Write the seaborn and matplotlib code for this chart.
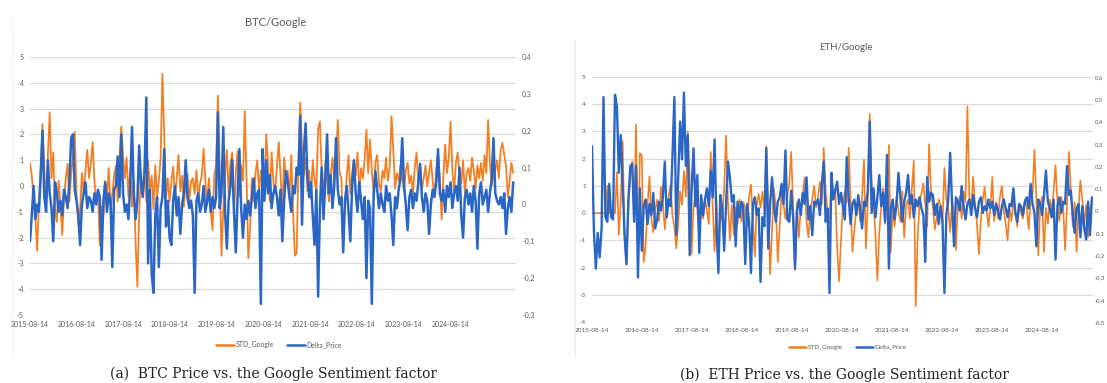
import matplotlib
matplotlib.use("Agg")
import matplotlib.pyplot as plt
from matplotlib.lines import Line2D
import seaborn as sns
import pandas as pd

# biweekly samples, starting 2015-08-14
start_date = "2015-08-14"
tick_labels = ["2015-08-14", "2016-08-14", "2017-08-14", "2018-08-14", "2019-08-14",
               "2020-08-14", "2021-08-14", "2022-08-14", "2023-08-14", "2024-08-14"]

btc_google = [
    0.9, 0.4, -0.4, -1.2, -2.5, -0.6, 0.8, 2.4, 0.6, -0.8, 1.2, 2.85, 0.3, 1.3, -0.9, -1.4, 0.2, -0.7, -1.9, -0.5, 0.3, 0.85, -0.6, 0.5, 1.1, 2.1,
    -0.4, -1.5, -0.9, 0.5, -0.3, 0.6, 1.4, 0.3, 0.9, 1.7, 0.2, -0.6, -0.2, -2.3, -0.8, -1.2, 0.2, -0.4, 0.7, -0.9, -0.3, 0.4, 0.8, -0.6, 1.1, 2.3,
    1.2, 0.3, 1.1, -0.4, 0.6, -0.8, 0.2, -2.2, -3.9, -1.0, 0.5, -0.3, 0.7, -0.6, 1.0, -0.2, 0.4, -0.9, 0.8, -0.4, 0.2, 1.1, 4.35, 2.0, -0.5, 0.3,
    -0.6, 0.2, 0.75, -0.4, 0.3, 1.2, -0.2, 0.4, -0.8, 0.1, 0.5, -0.6, 0.2, 0.3, -0.3, 0.6, -0.5, 0.1, 0.4, 1.45, 0.2, -0.7, 0.3, -1.0, -1.7, 0.4,
    0.8, 3.5, 0.6, -2.7, -0.9, 0.4, 1.4, -0.3, 0.9, 1.3, -1.1, 0.5, 1.35, -0.4, 0.8, 0.2, 2.9, 0.3, -2.8, -1.6, 0.3, -0.6, 0.5, 1.0, -0.2, 0.6,
    0.5, -0.4, 2.0, 0.9, -0.6, 1.3, 0.2, -0.3, 0.8, 1.7, 0.4, -0.9, 1.1, 0.3, 0.6, -0.5, 1.2, -1.0, -2.7, -2.6, 0.8, 3.24, 1.5, 0.4, 1.1, -0.2,
    0.6, -0.5, 1.0, 0.2, -0.2, 2.2, 2.5, 0.6, -0.4, 0.9, 0.3, -0.6, 0.4, 1.1, 0.2, 0.8, 2.56, 0.5, 0.3, -2.4, -0.8, 0.4, 1.2, -0.3, 0.5, 1.0,
    0.4, 1.3, -0.2, 0.7, 0.3, 1.0, 2.18, 0.5, 1.8, 0.6, -0.3, 0.9, 1.2, 0.1, -0.2, 0.6, 0.3, 1.1, 0.2, 0.7, 2.7, 1.4, -0.1, 0.5, 0.2, 0.8,
    0.3, -0.2, 0.6, 0.9, 0.1, 0.4, -0.3, 0.7, 1.3, 0.2, 0.5, -0.1, 0.3, 0.8, 0.0, 0.5, 1.0, 0.2, -0.4, 0.6, 1.2, 0.3, -1.3, 0.4, 1.6, 0.5,
    1.1, 2.5, 0.6, -0.2, 0.9, 1.3, 0.4, 0.1, 1.0, -0.3, 0.5, 0.7, 0.2, 1.1, 0.6, -0.1, 0.8, 0.3, 0.9, 0.2, 1.2, 0.5, 2.56, 0.9, 0.0, 0.4,
    0.6, 1.0, 0.3, 1.4, 1.67, 1.2, 0.8, -0.45, 0.2, 0.9, 0.5,
]

btc_delta = [
    -0.10, -0.03, 0.05, -0.04, 0.00, -0.02, 0.08, 0.20, 0.02, -0.02, 0.12, 0.03, -0.01, -0.10, 0.06, 0.03, -0.02, 0.01, -0.03, 0.04, 0.02, -0.01, 0.06, 0.18, 0.19, 0.04,
    0.01, -0.03, -0.11, 0.00, 0.03, 0.06, -0.01, 0.02, 0.01, -0.02, 0.03, 0.00, 0.04, 0.02, -0.15, 0.01, 0.06, -0.02, 0.03, 0.01, -0.17, 0.04, 0.05, 0.13, 0.02, 0.19,
    0.03, -0.02, 0.00, -0.04, 0.05, 0.21, 0.03, -0.04, 0.01, 0.16, 0.06, 0.02, 0.09, 0.29, -0.16, 0.04, -0.19, -0.24, -0.03, 0.02, -0.17, -0.01, 0.02, 0.15, -0.06, 0.01,
    -0.09, -0.11, 0.01, 0.05, -0.03, 0.02, -0.08, 0.00, 0.03, 0.12, 0.02, -0.01, 0.01, -0.03, -0.24, 0.01, 0.03, -0.02, 0.00, 0.05, -0.02, 0.01, 0.04, -0.02, 0.02, -0.01,
    0.02, 0.25, -0.01, 0.03, 0.21, -0.02, -0.12, 0.01, 0.05, 0.12, -0.02, -0.13, 0.02, 0.15, -0.01, -0.09, 0.00, -0.04, 0.01, -0.03, 0.02, 0.07, -0.01, 0.03, 0.04, -0.27,
    0.15, 0.01, 0.12, 0.03, 0.08, -0.01, 0.03, 0.05, 0.02, -0.03, 0.04, -0.10, 0.01, 0.09, 0.06, 0.02, -0.02, 0.05, 0.03, 0.10, 0.08, 0.24, -0.055, 0.14, 0.22, 0.08,
    0.02, 0.06, -0.03, -0.11, 0.04, -0.25, -0.01, 0.10, -0.04, 0.06, 0.19, 0.03, 0.08, -0.01, 0.05, 0.18, 0.04, 0.00, 0.02, -0.13, 0.01, 0.05, -0.02, -0.10, 0.05, 0.12,
    0.03, -0.02, 0.06, 0.01, -0.04, 0.02, -0.20, 0.01, -0.01, -0.27, 0.02, 0.09, 0.04, -0.01, 0.03, 0.00, -0.02, 0.05, 0.01, 0.03, -0.03, -0.11, 0.02, -0.01, 0.04, 0.07,
    0.18, 0.05, 0.00, -0.07, 0.02, 0.04, -0.01, 0.03, 0.01, 0.06, 0.11, 0.02, -0.02, 0.03, 0.01, -0.08, 0.00, 0.04, 0.02, 0.06, 0.15, 0.03, 0.01, 0.04, -0.02, 0.05,
    0.02, 0.06, -0.01, 0.03, 0.05, 0.01, 0.10, -0.03, -0.09, 0.02, 0.04, 0.00, 0.03, -0.02, 0.05, 0.01, -0.12, 0.03, 0.06, 0.00, 0.02, 0.04, -0.02, 0.03, 0.07, 0.18,
    0.03, 0.01, 0.00, 0.02, -0.01, 0.03, -0.08, -0.01, 0.02, -0.02, 0.06,
]

eth_google = [
    0, 0, 0, 0, 0, 0, 0, 0, 1.0, 0, 0, 0, 0, 1.5, -0.8, 0.4, 2.65, -0.9, -1.9, 0.2, 1.3, 1.9, -0.3, 3.25, -1.7, 2.2,
    2.1, -1.8, -1.2, 0.3, 1.35, -0.2, -0.7, 0.1, 0.5, -0.3, 0.95, 0.4, -0.6, 0.2, 0.6, 1.05, -0.1, -0.5, -1.3, -0.4, 0.8, 0.3, 1.55, 0.6, 3.0, 1.4,
    -1.5, 0.2, 0.7, 0.1, -0.9, 0.4, -0.2, 0.5, 0.1, -0.4, 2.25, 0.3, -1.4, 0.5, -1.5, 0.2, -0.3, 0.9, 2.85, 0.4, -1.0, 0.3, -0.8, 0.2, -0.4, 0.5,
    -0.3, 0.4, 0.2, -0.5, 0.6, 1.05, -0.2, -1.6, 0.3, 0.7, 0.2, 0.8, 0.1, 2.45, 0.5, -2.25, -0.6, 0.9, 0.2, -1.8, -0.5, 0.8, 0.3, -0.2, 0.6, 1.1,
    2.25, 0.3, -2.1, 0.4, -0.9, 0.2, 0.6, 1.3, -0.3, -0.9, 0.1, 0.5, 1.0, 0.2, 0.6, 1.15, 0.3, 2.4, 0.8, 0.0, -0.4, 1.2, 0.5, 0.9, -1.3, -2.5,
    -1.0, 0.3, 0.8, 0.4, 2.4, 0.5, -1.43, -0.6, 0.2, 0.5, -0.3, 0.6, 1.96, -1.3, 0.4, 3.65, 1.2, 0.3, -0.8, -2.47, -0.7, 0.2, 0.9, -0.4, 0.6, 2.5,
    -1.43, 0.2, -0.5, 0.6, 0.1, -0.3, 0.8, -0.9, 0.3, 0.5, -0.2, 0.9, 1.92, -3.42, -1.0, 0.4, 0.7, 1.1, 0.3, -0.5, 2.53, 0.8, 0.2, -0.6, -0.14, 0.5,
    0.3, -0.4, 1.67, 0.5, 0.2, -0.7, 0.4, 0.1, -1.36, 0.3, 0.6, -0.2, 0.8, 0.4, 3.92, 0.6, 0.2, 1.33, 0.3, -0.4, -1.5, -0.3, 0.5, 0.96, 0.1, -0.5,
    0.2, 1.33, -0.3, 0.4, -0.2, 0.6, 1.0, 0.1, -0.4, -1.0, 0.2, -0.3, 0.4, 0.1, -0.5, 0.3, 0.0, -0.2, 0.5, 0.2, -0.6, 0.4, 0.7, 2.33, 0.5, -1.55,
    0.3, 0.6, -1.43, 0.2, -0.4, 0.5, 0.1, 0.8, 1.76, 0.4, -0.3, 0.6, 0.2, -1.36, 0.3, 2.25, 0.9, -0.5, 0.4, -1.43, 0.2, 1.2, 0.5, -0.4, 0.3, -0.88,
    0.2, 0.4,
]

eth_delta = [
    0.29, -0.09, -0.26, -0.10, -0.21, -0.08, 0.51, -0.03, -0.05, 0.12, -0.03, -0.04, 0.52, 0.47, 0.17, 0.34, 0.12, -0.11, -0.24, 0.05, 0.20, 0.21, -0.05, 0.20, -0.30, 0.10,
    -0.18, 0.02, 0.05, -0.06, 0.03, -0.02, 0.08, -0.08, -0.04, 0.04, 0.00, 0.06, 0.22, -0.03, 0.05, 0.02, 0.24, 0.51, -0.11, 0.15, 0.40, 0.23, 0.53, 0.20, 0.34, -0.20,
    0.09, 0.28, 0.02, 0.16, -0.19, 0.07, -0.02, 0.05, 0.10, 0.02, 0.18, 0.06, 0.32, -0.08, -0.28, 0.07, 0.01, -0.18, 0.03, 0.22, 0.15, 0.04, 0.07, -0.16, 0.04, -0.03,
    0.04, 0.01, -0.24, 0.03, -0.05, -0.28, 0.03, 0.06, -0.02, 0.01, -0.32, -0.03, -0.07, 0.28, -0.17, 0.03, 0.15, 0.02, -0.05, 0.04, 0.06, 0.12, 0.03, 0.27, -0.04, -0.05,
    0.09, -0.03, -0.26, 0.00, 0.05, -0.02, 0.08, 0.03, 0.15, -0.04, 0.02, -0.11, 0.04, 0.03, 0.05, -0.02, 0.12, 0.22, -0.05, 0.01, -0.37, 0.17, 0.05, 0.09, 0.13, 0.03,
    0.08, 0.02, -0.04, 0.24, 0.06, -0.06, 0.03, 0.05, -0.02, 0.07, 0.01, -0.08, 0.04, 0.02, 0.09, 0.40, -0.01, 0.10, -0.03, 0.06, 0.16, 0.02, 0.08, -0.05, 0.25, -0.26,
    0.01, 0.05, -0.04, 0.03, 0.17, 0.06, -0.05, 0.04, 0.08, 0.16, 0.03, 0.07, -0.03, 0.05, 0.02, 0.06, 0.01, -0.02, -0.23, 0.15, 0.04, 0.08, 0.07, -0.02, 0.03, -0.06,
    0.02, -0.05, -0.37, -0.02, 0.05, 0.26, 0.03, -0.16, 0.06, 0.04, 0.00, 0.11, 0.02, -0.04, 0.03, 0.05, -0.02, 0.07, 0.01, -0.03, 0.04, 0.06, -0.01, 0.02, 0.00, 0.05,
    0.01, 0.04, -0.02, 0.03, 0.00, -0.04, 0.02, 0.05, 0.01, -0.03, 0.03, 0.02, 0.10, -0.01, -0.05, 0.03, 0.02, -0.02, 0.04, 0.06, 0.01, 0.12, 0.03, -0.01, -0.16, 0.05,
    0.03, -0.02, 0.07, 0.18, 0.04, 0.01, -0.03, 0.05, -0.22, 0.02, 0.06, -0.01, 0.04, 0.03, 0.20, 0.07, 0.09, -0.02, -0.10, 0.01, 0.03, -0.12, 0.02, -0.08, -0.13, 0.04,
    -0.11, 0.06,
]

btc_left_ticks = [-5, -4, -3, -2, -1, 0, 1, 2, 3, 4, 5]
btc_right_ticks = [-0.3, -0.2, -0.1, 0.0, 0.1, 0.2, 0.3, 0.4]
eth_left_ticks = [-4, -3, -2, -1, 0, 1, 2, 3, 4, 5]
eth_right_ticks = [-0.5, -0.4, -0.3, -0.2, -0.1, 0.0, 0.1, 0.2, 0.3, 0.4, 0.5, 0.6]

ORANGE = "#F37F22"
BLUE = "#2A66C6"
GREY = "#595959"
W, H = 1107, 383

sns.set_style("white")
plt.rcParams["font.family"] = ["Lato", "DejaVu Sans"]

fig = plt.figure(figsize=(W / 100, H / 100), dpi=100)


def px(x, y):
    return x / W, 1 - y / H


def comma(v):
    if abs(v) < 1e-9:
        return "0"
    return f"{v:.1f}".replace(".", ",")


def panel(box, google, delta, lticks, rticks, span_days, fs, lw, rpad, rfs):
    x0, y0, x1, y1 = box
    ax = fig.add_axes([x0 / W, 1 - y1 / H, (x1 - x0) / W, (y1 - y0) / H])
    ax2 = ax.twinx()
    d_g = pd.date_range(start_date, periods=len(google), freq="14D")
    d_d = pd.date_range(start_date, periods=len(delta), freq="14D")
    sns.lineplot(x=d_g, y=google, ax=ax, color=ORANGE, linewidth=lw[0], legend=False)
    sns.lineplot(x=d_d, y=delta, ax=ax2, color=BLUE, linewidth=lw[1], legend=False)

    t0 = pd.Timestamp(start_date)
    ax.set_xlim(t0, t0 + pd.Timedelta(days=span_days))
    ax.set_ylim(lticks[0], lticks[-1])
    ax2.set_ylim(rticks[0], rticks[-1])
    ax.set_yticks(lticks)
    ax.set_yticklabels([str(t) for t in lticks])
    ax2.set_yticks(rticks)
    ax2.set_yticklabels([comma(t) for t in rticks])
    ax.set_xticks(pd.to_datetime(tick_labels))
    ax.set_xticklabels(tick_labels)
    ax.grid(axis="y", color="#D9D9D9", linewidth=0.8)
    ax.grid(axis="x", visible=False)
    ax.set_axisbelow(True)
    for a in (ax, ax2):
        for s in a.spines.values():
            s.set_visible(False)
        a.set_xlabel("")
        a.set_ylabel("")
    ax.tick_params(axis="both", length=0, labelsize=fs, labelcolor=GREY, pad=4.5)
    ax2.tick_params(axis="y", length=0, labelsize=rfs, labelcolor=GREY, pad=rpad)
    return ax, ax2


panel((30, 57, 516, 315), btc_google, btc_delta, btc_left_ticks, btc_right_ticks,
      3802, 5, (1.3, 1.8), 4.5, 5)
panel((592, 77, 1093, 322), eth_google, eth_delta, eth_left_ticks, eth_right_ticks,
      3662, 4.6, (1.2, 1.7), 1.0, 4.2)

# chart titles
fig.text(*px(276, 23), "BTC/Google", ha="center", va="center", fontsize=8, color=GREY)
fig.text(*px(846, 47), "ETH/Google", ha="center", va="center", fontsize=7, color=GREY)

# legends
handles = [Line2D([], [], color=ORANGE, lw=1.8), Line2D([], [], color=BLUE, lw=1.8)]
names = ["STD_Google", "Delta_Price"]
fig.legend(handles, names, loc="center", bbox_to_anchor=px(279, 345), ncol=2,
           frameon=False, fontsize=5, handlelength=2.6, handletextpad=0.2,
           columnspacing=1.8, labelcolor=GREY)
fig.legend(handles, names, loc="center", bbox_to_anchor=px(848, 347), ncol=2,
           frameon=False, fontsize=4.6, handlelength=2.6, handletextpad=0.2,
           columnspacing=2.2, labelcolor=GREY)

# faint chart-area borders
fig.add_artist(Line2D([12 / W, 12 / W], [1 - 17 / H, 1 - 357 / H], color="#D0D0D0",
                      lw=0.6, linestyle=(0, (1, 1.5))))
fig.add_artist(Line2D([575 / W, 575 / W], [1 - 40 / H, 1 - 357 / H], color="#E6E6E6", lw=0.6))

# captions
fig.text(*px(274, 374), "(a)  BTC Price vs. the Google Sentiment factor", ha="center",
         va="center", fontsize=10, family="DejaVu Serif", color="#222222")
fig.text(*px(844, 375), "(b)  ETH Price vs. the Google Sentiment factor", ha="center",
         va="center", fontsize=10, family="DejaVu Serif", color="#222222")

fig.savefig("out.png", dpi=100)
